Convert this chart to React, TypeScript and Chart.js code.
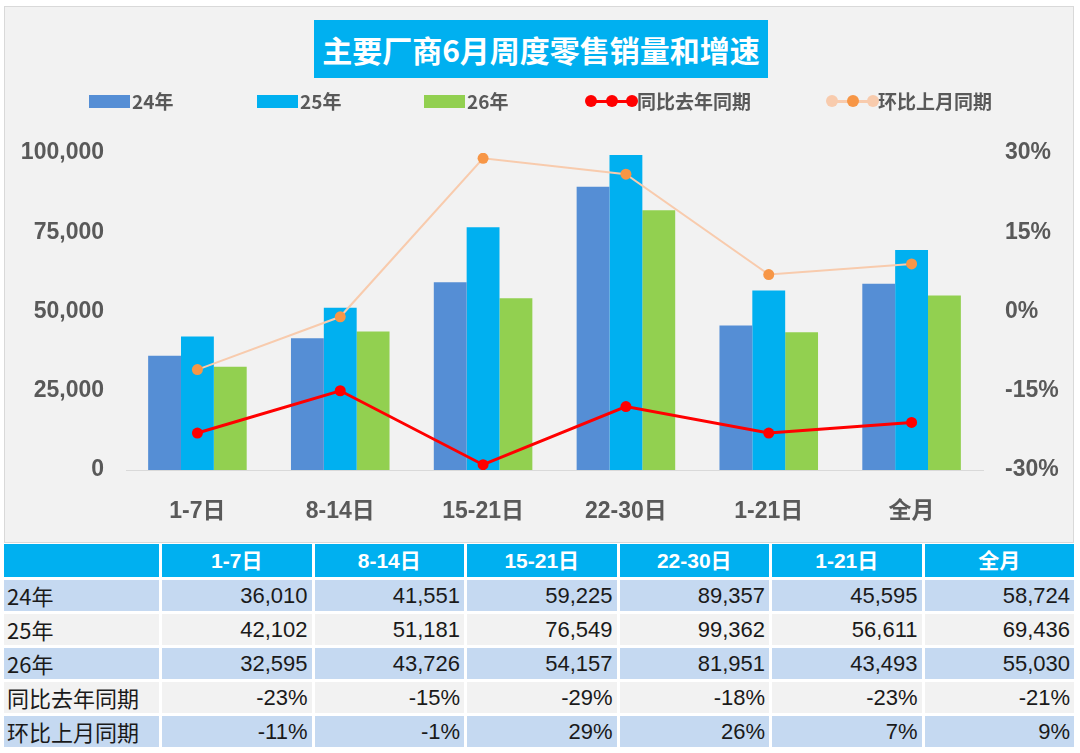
import React, { useEffect, useRef } from 'react';
import { Chart, registerables } from 'chart.js';
Chart.register(...registerables);

const categories = ['1-7日', '8-14日', '15-21日', '22-30日', '1-21日', '全月'];
const sales24 = [36010, 41551, 59225, 89357, 45595, 58724];
const sales25 = [42102, 51181, 76549, 99362, 56611, 69436];
const sales26 = [32595, 43726, 54157, 81951, 43493, 55030];
const yoy = [-23, -15, -29, -18, -23, -21];
const mom = [-11, -1, 29, 26, 7, 9];
const seriesNames = ['24年', '25年', '26年', '同比去年同期', '环比上月同期'];

const LAT = '"Liberation Sans", Arial, "Noto Sans CJK SC", sans-serif';
const CJK = '"Noto Sans CJK SC", "Liberation Sans", sans-serif';
const C24 = '#558ED5';
const C25 = '#00B0F0';
const C26 = '#92D050';
const CRED = '#FF0000';
const CPEACH = '#F8CBAD';
const CORANGE = '#F79646';
const GRAY = '#595959';

const fmtNum = (v: number) => v.toLocaleString('en-US');
const fmtPct = (v: number) => `${v}%`;

function LineSymbol({ left, line, dots }: { left: number; line: string; dots: string[] }) {
  const xs = [6, 27, 47];
  return (
    <div style={{ position: 'absolute', left, top: 95, width: 54, height: 12 }}>
      <div style={{ position: 'absolute', left: 6, top: 4.5, width: 41, height: 3, background: line }} />
      {xs.map((x, i) => (
        <div key={i} style={{ position: 'absolute', left: x - 6, top: 0, width: 12, height: 12, borderRadius: 6, background: dots[i] }} />
      ))}
    </div>
  );
}

export default function App() {
  const ref = useRef<HTMLCanvasElement>(null);
  useEffect(() => {
    document.body.style.margin = '0';
    const tickFont = { family: LAT, size: 23, weight: 'bold' as const };
    const chart = new Chart(ref.current!, {
      type: 'bar',
      data: {
        labels: categories,
        datasets: [
          {
            type: 'line', label: seriesNames[3], data: yoy, yAxisID: 'y1', order: 0,
            borderColor: CRED, backgroundColor: CRED, borderWidth: 3,
            pointRadius: 5.5, pointBackgroundColor: CRED, pointBorderWidth: 0, tension: 0,
          } as any,
          {
            type: 'line', label: seriesNames[4], data: mom, yAxisID: 'y1', order: 1,
            borderColor: CPEACH, backgroundColor: CORANGE, borderWidth: 2,
            pointRadius: 5.5, pointBackgroundColor: CORANGE, pointBorderWidth: 0, tension: 0,
          } as any,
          { label: seriesNames[0], data: sales24, backgroundColor: C24, yAxisID: 'y', order: 2 },
          { label: seriesNames[1], data: sales25, backgroundColor: C25, yAxisID: 'y', order: 2 },
          { label: seriesNames[2], data: sales26, backgroundColor: C26, yAxisID: 'y', order: 2 },
        ],
      },
      options: {
        animation: false,
        responsive: false,
        datasets: { bar: { categoryPercentage: 0.69, barPercentage: 1 } },
        layout: { padding: { top: 146, left: 0, right: 0, bottom: 0 } },
        plugins: { legend: { display: false }, tooltip: { enabled: false }, title: { display: false } },
        scales: {
          x: {
            grid: { display: false, drawTicks: false },
            border: { display: true, color: '#D9D9D9', width: 1 },
            ticks: { font: tickFont, color: GRAY, padding: 28 },
            afterFit: (s: any) => { s.height = 72; },
          },
          y: {
            position: 'left', min: 0, max: 100000,
            grid: { display: false, drawTicks: false },
            border: { display: false },
            ticks: { stepSize: 25000, font: tickFont, color: GRAY, padding: 22, callback: (v: any) => fmtNum(Number(v)) },
            afterFit: (s: any) => { s.width = 121; },
          },
          y1: {
            position: 'right', min: -30, max: 30,
            grid: { display: false, drawTicks: false },
            border: { display: false },
            ticks: { stepSize: 15, font: tickFont, color: GRAY, padding: 22, callback: (v: any) => fmtPct(Number(v)) },
            afterFit: (s: any) => { s.width = 90; },
          },
        },
      } as any,
    });
    return () => chart.destroy();
  }, []);

  const rows: { name: string; vals: string[]; bg: string }[] = [
    { name: seriesNames[0], vals: sales24.map(fmtNum), bg: '#C5D9F1' },
    { name: seriesNames[1], vals: sales25.map(fmtNum), bg: '#F2F2F2' },
    { name: seriesNames[2], vals: sales26.map(fmtNum), bg: '#C5D9F1' },
    { name: seriesNames[3], vals: yoy.map(fmtPct), bg: '#F2F2F2' },
    { name: seriesNames[4], vals: mom.map(fmtPct), bg: '#C5D9F1' },
  ];

  const legendText = (left: number, text: string) => (
    <div style={{ position: 'absolute', left, top: 88, height: 26, lineHeight: '26px', fontFamily: CJK, fontWeight: 700, fontSize: 19, color: GRAY, whiteSpace: 'nowrap' }}>{text}</div>
  );
  const swatch = (left: number, color: string) => (
    <div style={{ position: 'absolute', left, top: 95, width: 41, height: 13, background: color }} />
  );

  return (
    <div style={{ position: 'absolute', left: 0, top: 0, width: 1080, height: 753, background: '#FFFFFF', overflow: 'hidden' }}>
      <div style={{ position: 'absolute', left: 4, top: 6, width: 1068, height: 535, background: '#F2F2F2', border: '1px solid #D9D9D9' }}>
        <canvas ref={ref} width={1068} height={535} style={{ position: 'absolute', left: 0, top: 0, width: 1068, height: 535 }} />
      </div>
      <div style={{ position: 'absolute', left: 314, top: 20, width: 454, height: 58, background: '#00B0F0', color: '#FFFFFF', fontFamily: CJK, fontWeight: 700, fontSize: 30, lineHeight: '58px', textAlign: 'center', whiteSpace: 'nowrap' }}>
        主要厂商6月周度零售销量和增速
      </div>
      {swatch(89, C24)}
      {legendText(132, seriesNames[0])}
      {swatch(257, C25)}
      {legendText(300, seriesNames[1])}
      {swatch(424, C26)}
      {legendText(467, seriesNames[2])}
      <LineSymbol left={585} line={CRED} dots={[CRED, CRED, CRED]} />
      {legendText(637, seriesNames[3])}
      <LineSymbol left={826} line={CPEACH} dots={[CPEACH, CORANGE, CPEACH]} />
      {legendText(878, seriesNames[4])}

      <div style={{ position: 'absolute', left: 4, top: 544, display: 'grid', gridTemplateColumns: '155px repeat(6, 149.5px)', gridTemplateRows: '33px repeat(5, 31px)', columnGap: 3, rowGap: 3 }}>
        <div style={{ background: '#00B0F0' }} />
        {categories.map((c) => (
          <div key={c} style={{ background: '#00B0F0', color: '#FFFFFF', fontFamily: LAT, fontWeight: 700, fontSize: 21, lineHeight: '33px', textAlign: 'center' }}>{c}</div>
        ))}
        {rows.map((r) => (
          <React.Fragment key={r.name}>
            <div style={{ background: r.bg, fontFamily: CJK, fontSize: 22, lineHeight: '31px', paddingLeft: 3, color: '#1A1A1A', whiteSpace: 'nowrap' }}>{r.name}</div>
            {r.vals.map((v, i) => (
              <div key={i} style={{ background: r.bg, fontFamily: LAT, fontSize: 22, lineHeight: '31px', textAlign: 'right', paddingRight: 4, color: '#1A1A1A' }}>{v}</div>
            ))}
          </React.Fragment>
        ))}
      </div>
    </div>
  );
}
